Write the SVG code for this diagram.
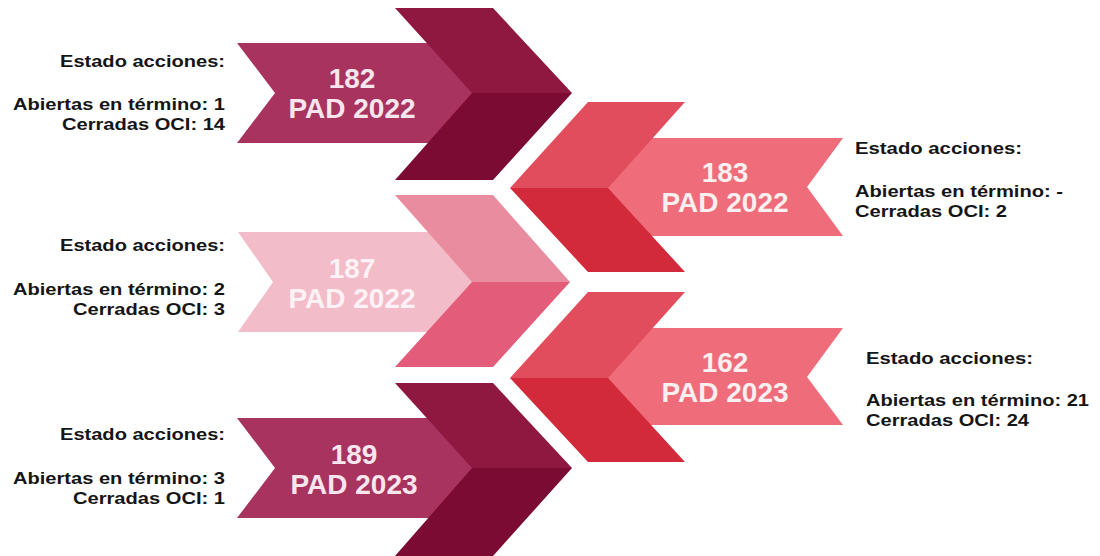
<svg xmlns="http://www.w3.org/2000/svg" width="1100" height="556" viewBox="0 0 1100 556">
<style>
.big{font-family:"Liberation Sans",Arial,sans-serif;font-weight:bold;font-size:28px;text-anchor:middle}
.lbl{font-family:"Liberation Sans",Arial,sans-serif;font-weight:bold;font-size:17px;fill:#151515}
.wine-band{fill:#A8335F}.wine-up{fill:#8F1840}.wine-lo{fill:#7B0B33}
.red-band{fill:#EF6C7A}.red-up{fill:#E24D5D}.red-lo{fill:#D22A3B}
.pink-band{fill:#F3BCC9}.pink-up{fill:#EA8C9F}.pink-lo{fill:#E35C7A}
</style>
<rect width="1100" height="556" fill="#FFFFFF"/>
<g id="node-182">
<polygon class="wine-band" points="237,43 480,43 480,143 237,143 275,93"/>
<polygon class="wine-up" points="395,8 493,8 572,93 472,93"/>
<polygon class="wine-lo" points="472,93 572,93 493,180 395,180"/>
<text class="big" x="352" y="88" fill="#F8E6EE">182</text>
<text class="big" x="352" y="118" fill="#F8E6EE">PAD 2022</text>
<text class="lbl" x="60" y="67" textLength="165" lengthAdjust="spacingAndGlyphs">Estado acciones:</text>
<text class="lbl" x="13" y="110" textLength="212" lengthAdjust="spacingAndGlyphs">Abiertas en término: 1</text>
<text class="lbl" x="62" y="130" textLength="163" lengthAdjust="spacingAndGlyphs">Cerradas OCI: 14</text>
</g>
<g id="node-183">
<polygon class="red-band" points="600,138 843,138 807,187 843,236 600,236"/>
<polygon class="red-up" points="588,102 685,102 608,188 510,188"/>
<polygon class="red-lo" points="510,188 608,188 685,272 588,272"/>
<text class="big" x="725" y="182" fill="#FCEFF0">183</text>
<text class="big" x="725" y="212" fill="#FCEFF0">PAD 2022</text>
<text class="lbl" x="855" y="154" textLength="167" lengthAdjust="spacingAndGlyphs">Estado acciones:</text>
<text class="lbl" x="855" y="197" textLength="208" lengthAdjust="spacingAndGlyphs">Abiertas en término: -</text>
<text class="lbl" x="855" y="217" textLength="152" lengthAdjust="spacingAndGlyphs">Cerradas OCI: 2</text>
</g>
<g id="node-187">
<polygon class="pink-band" points="238,232 480,232 480,332 238,332 273,282"/>
<polygon class="pink-up" points="395,195 493,195 570,282 472,282"/>
<polygon class="pink-lo" points="472,282 570,282 493,367 395,367"/>
<text class="big" x="352" y="278" fill="#FDF2F5">187</text>
<text class="big" x="352" y="308" fill="#FDF2F5">PAD 2022</text>
<text class="lbl" x="60" y="251" textLength="165" lengthAdjust="spacingAndGlyphs">Estado acciones:</text>
<text class="lbl" x="13" y="295" textLength="212" lengthAdjust="spacingAndGlyphs">Abiertas en término: 2</text>
<text class="lbl" x="73" y="315" textLength="152" lengthAdjust="spacingAndGlyphs">Cerradas OCI: 3</text>
</g>
<g id="node-162">
<polygon class="red-band" points="600,328 843,328 807,377 843,425 600,425"/>
<polygon class="red-up" points="588,292 685,292 608,378 510,378"/>
<polygon class="red-lo" points="510,378 608,378 685,462 588,462"/>
<text class="big" x="725" y="372" fill="#FCEFF0">162</text>
<text class="big" x="725" y="402" fill="#FCEFF0">PAD 2023</text>
<text class="lbl" x="866" y="364" textLength="167" lengthAdjust="spacingAndGlyphs">Estado acciones:</text>
<text class="lbl" x="866" y="406" textLength="223" lengthAdjust="spacingAndGlyphs">Abiertas en término: 21</text>
<text class="lbl" x="866" y="426" textLength="163" lengthAdjust="spacingAndGlyphs">Cerradas OCI: 24</text>
</g>
<g id="node-189">
<polygon class="wine-band" points="237,418 480,418 480,518 237,518 275,468"/>
<polygon class="wine-up" points="395,383 493,383 572,468 472,468"/>
<polygon class="wine-lo" points="472,468 572,468 493,556 395,556"/>
<text class="big" x="354" y="464" fill="#F8E6EE">189</text>
<text class="big" x="354" y="494" fill="#F8E6EE">PAD 2023</text>
<text class="lbl" x="60" y="440" textLength="165" lengthAdjust="spacingAndGlyphs">Estado acciones:</text>
<text class="lbl" x="13" y="484" textLength="212" lengthAdjust="spacingAndGlyphs">Abiertas en término: 3</text>
<text class="lbl" x="73" y="504" textLength="152" lengthAdjust="spacingAndGlyphs">Cerradas OCI: 1</text>
</g>
</svg>
